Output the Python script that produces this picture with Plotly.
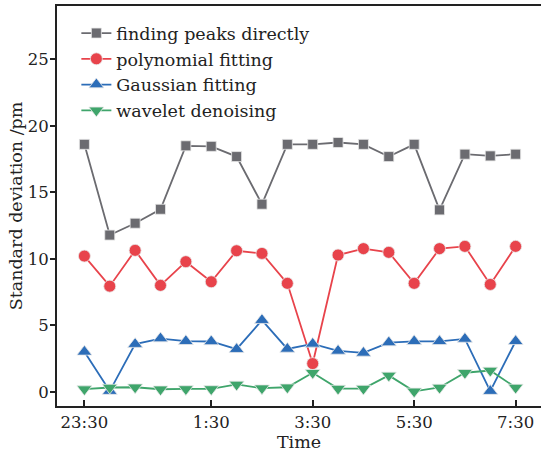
import plotly.graph_objects as go

idx = list(range(18))
tick_pos = [0, 5, 9, 13, 17]
tick_text = ["23:30", "1:30", "3:30", "5:30", "7:30"]

peaks = [18.6, 11.78, 12.67, 13.72, 18.49, 18.45, 17.68, 14.1, 18.6, 18.6,
         18.74, 18.6, 17.68, 18.6, 13.67, 17.86, 17.73, 17.86]
poly = [10.2, 7.94, 10.63, 8.0, 9.78, 8.27, 10.6, 10.4, 8.15, 2.12,
        10.28, 10.76, 10.48, 8.15, 10.76, 10.93, 8.07, 10.93]
gauss = [3.0, 0.05, 3.58, 4.0, 3.8, 3.78, 3.2, 5.38, 3.22, 3.6,
         3.07, 2.92, 3.7, 3.79, 3.79, 3.97, 0.05, 3.8]
wavelet = [0.2, 0.32, 0.34, 0.19, 0.21, 0.21, 0.55, 0.27, 0.34, 1.43,
           0.24, 0.24, 1.23, 0.03, 0.32, 1.43, 1.6, 0.32]

names = ["finding peaks directly", "polynomial fitting", "Gaussian fitting", "wavelet denoising"]
colors = ["#6b6b70", "#e8434b", "#2c6db8", "#3fa56b"]
symbols = ["square", "circle", "triangle-up", "triangle-down"]
sizes = [10, 12, 13, 13]
series = [peaks, poly, gauss, wavelet]

fig = go.Figure()
for s, n, c, sym, sz in zip(series, names, colors, symbols, sizes):
    fig.add_trace(go.Scatter(
        x=idx, y=s, mode="lines+markers", name=n,
        line=dict(color=c, width=1.8),
        marker=dict(symbol=sym, size=sz, color=c, line=dict(color="#e8e8e8", width=0.8)),
    ))

font = "DejaVu Serif"
fig.update_layout(
    width=541, height=455,
    margin=dict(l=57, r=0, t=6, b=49),
    paper_bgcolor="white", plot_bgcolor="white",
    font=dict(family=font, size=17, color="#222"),
    showlegend=True,
    legend=dict(x=0.04, y=0.977, xanchor="left", yanchor="top",
                bgcolor="rgba(0,0,0,0)", font=dict(size=17.5, family=font),
                tracegroupgap=0, itemwidth=30),
)
fig.update_xaxes(
    range=[-1.08, 18.0], tickmode="array", tickvals=tick_pos, ticktext=tick_text,
    automargin=False,
    showgrid=False, zeroline=False, showline=True, linecolor="#222", linewidth=2,
    mirror=True, ticks="inside", ticklen=6, tickwidth=1.5, tickcolor="#222",
    title=dict(text="Time", standoff=0, font=dict(size=17.5)),
    tickfont=dict(size=16.5),
)
fig.update_yaxes(
    range=[-1.07, 29.0], tickvals=[0, 5, 10, 15, 20, 25],
    automargin=False,
    showgrid=False, zeroline=False, showline=True, linecolor="#222", linewidth=2,
    ticks="outside", ticklen=5, tickwidth=1.5, tickcolor="#222",
    ticklabelstandoff=-2,
    title=dict(text="Standard deviation /pm", standoff=1, font=dict(size=17.5)),
    tickfont=dict(size=16.5),
)
fig.write_html("out.html", config={"displayModeBar": False},
               post_script="document.body.style.margin='0';")
